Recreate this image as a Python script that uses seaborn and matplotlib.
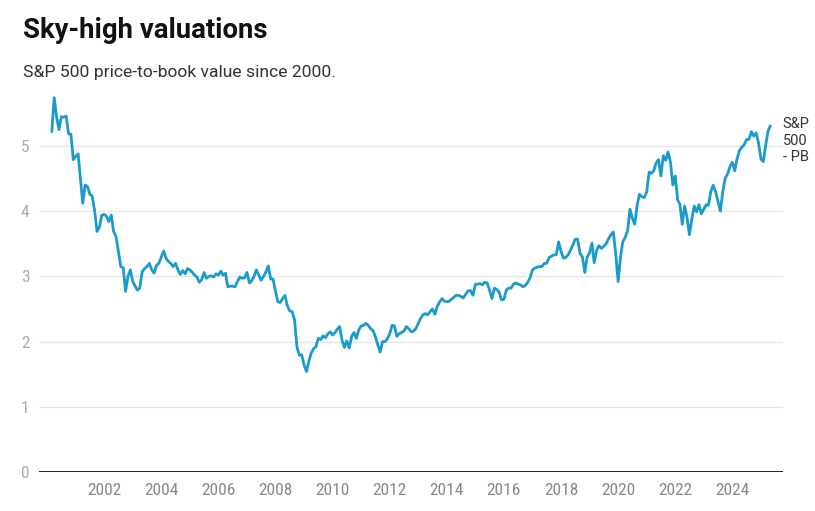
import numpy as np
import pandas as pd
import matplotlib.pyplot as plt
import matplotlib.dates as mdates
import seaborn as sns

# S&P 500 price-to-book, monthly, Mar 2000 - May 2025
start_month = "2000-03-01"
pb_values = [
    5.22, 5.74, 5.45, 5.25, 5.45, 5.44, 5.46, 5.19, 5.18, 4.79,           # 2000 Mar-Dec
    4.84, 4.88, 4.52, 4.12, 4.40, 4.38, 4.26, 4.23, 4.00, 3.69, 3.76, 3.94,  # 2001
    3.95, 3.92, 3.84, 3.94, 3.69, 3.61, 3.38, 3.15, 3.13, 2.77, 3.00, 3.10,  # 2002
    2.92, 2.85, 2.79, 2.82, 3.07, 3.12, 3.15, 3.20, 3.10, 3.05, 3.17, 3.20,  # 2003
    3.30, 3.39, 3.28, 3.23, 3.20, 3.15, 3.20, 3.10, 3.03, 3.09, 3.04, 3.12,  # 2004
    3.10, 3.06, 3.02, 2.99, 2.91, 2.95, 3.06, 2.97, 3.00, 3.01, 2.99, 3.04,  # 2005
    3.02, 3.08, 3.02, 3.05, 2.84, 2.85, 2.85, 2.84, 2.92, 2.99, 2.97, 2.98,  # 2006
    3.06, 2.90, 2.93, 3.00, 3.10, 3.02, 2.94, 3.00, 3.07, 3.16, 2.96, 2.96,  # 2007
    2.77, 2.61, 2.60, 2.66, 2.71, 2.55, 2.47, 2.46, 2.33, 1.92, 1.79, 1.80,  # 2008
    1.64, 1.54, 1.69, 1.82, 1.89, 1.92, 2.05, 2.03, 2.09, 2.06, 2.12, 2.15,  # 2009
    2.10, 2.14, 2.19, 2.23, 2.02, 1.91, 2.01, 1.90, 2.08, 2.14, 2.05, 2.18,  # 2010
    2.24, 2.25, 2.28, 2.25, 2.20, 2.17, 2.08, 1.95, 1.84, 2.00, 2.00, 2.04,  # 2011
    2.12, 2.25, 2.24, 2.08, 2.12, 2.14, 2.16, 2.23, 2.20, 2.15, 2.16, 2.20,  # 2012
    2.28, 2.36, 2.41, 2.43, 2.41, 2.46, 2.50, 2.42, 2.54, 2.61, 2.66, 2.62,  # 2013
    2.61, 2.62, 2.65, 2.68, 2.71, 2.71, 2.69, 2.67, 2.73, 2.78, 2.78, 2.71,  # 2014
    2.88, 2.88, 2.89, 2.87, 2.91, 2.90, 2.79, 2.66, 2.82, 2.80, 2.76, 2.64,  # 2015
    2.65, 2.79, 2.82, 2.82, 2.88, 2.90, 2.88, 2.87, 2.84, 2.86, 2.91, 2.98,  # 2016
    3.10, 3.13, 3.14, 3.15, 3.15, 3.20, 3.20, 3.29, 3.31, 3.33, 3.33, 3.53,  # 2017
    3.38, 3.28, 3.29, 3.33, 3.40, 3.48, 3.57, 3.57, 3.35, 3.30, 3.06, 3.30,  # 2018
    3.36, 3.51, 3.21, 3.40, 3.47, 3.43, 3.46, 3.50, 3.58, 3.64, 3.68, 3.35,  # 2019
    2.92, 3.30, 3.53, 3.60, 3.70, 4.03, 3.89, 3.80, 4.10, 4.26, 4.22, 4.21,  # 2020
    4.30, 4.60, 4.58, 4.62, 4.74, 4.79, 4.54, 4.85, 4.78, 4.91, 4.75, 4.40,  # 2021
    4.54, 4.17, 4.11, 3.80, 4.08, 3.90, 3.64, 3.88, 4.08, 3.99, 4.10, 3.96,  # 2022
    4.03, 4.10, 4.09, 4.30, 4.40, 4.30, 4.15, 4.00, 4.30, 4.50, 4.57, 4.68,  # 2023
    4.75, 4.62, 4.80, 4.93, 4.98, 5.02, 5.10, 5.10, 5.22, 5.15, 5.20, 5.05,  # 2024
    4.80, 4.76, 5.00, 5.22, 5.31,                                            # 2025 Jan-May
]
series_label = "S&P\n500\n- PB"
tick_years = [2002, 2004, 2006, 2008, 2010, 2012, 2014, 2016, 2018, 2020, 2022, 2024]
y_ticks = [0, 1, 2, 3, 4, 5]

data = pd.DataFrame({
    "date": pd.date_range(start_month, periods=len(pb_values), freq="MS"),
    "pb": pb_values,
})

sns.set_style("white")
plt.rcParams["font.family"] = ["Roboto", "DejaVu Sans"]

fig = plt.figure(figsize=(8.15, 5.11), dpi=100)
ax = fig.add_axes([0.0479, 0.0763, 0.9128, 0.7401])

sns.lineplot(data=data, x="date", y="pb", ax=ax, color="#1a9bcc", linewidth=2.0)

ax.set_xlim(pd.Timestamp("1999-09-20"), pd.Timestamp("2025-10-10"))
ax.set_ylim(0, 5.8)
ax.set_xticks([pd.Timestamp(f"{y}-01-01") for y in tick_years])
ax.xaxis.set_major_formatter(mdates.DateFormatter("%Y"))
ax.set_yticks(y_ticks)
ax.set_xlabel("")
ax.set_ylabel("")

for s in ax.spines.values():
    s.set_visible(False)
ax.grid(axis="y", color="#e5e5e5", linewidth=0.9)
ax.grid(axis="x", visible=False)
ax.axhline(0, color="#222222", linewidth=1.4, zorder=3)

ax.tick_params(axis="both", length=0)
ax.tick_params(axis="x", pad=8, colors="#888888")
ax.tick_params(axis="y", pad=7, colors="#aaaaaa")
for lab in ax.get_xticklabels() + ax.get_yticklabels():
    lab.set_fontfamily(["Roboto Condensed", "Liberation Sans Narrow", "Roboto"])
    lab.set_fontsize(12.5)

ax.annotate(series_label, xy=(data["date"].iloc[-1], data["pb"].iloc[-1]),
            xytext=(9, 6), textcoords="offset points", va="top", ha="left",
            fontsize=10.5, color="#333333", linespacing=1.2, annotation_clip=False)

fig.text(23 / 815, 1 - 38 / 511, "Sky-high valuations", fontsize=19.8,
         fontweight="bold", color="#111111", va="baseline")
fig.text(23 / 815, 1 - 77 / 511, "S&P 500 price-to-book value since 2000.",
         fontsize=12.6, color="#333333", va="baseline")

fig.savefig("out.png", dpi=100)
